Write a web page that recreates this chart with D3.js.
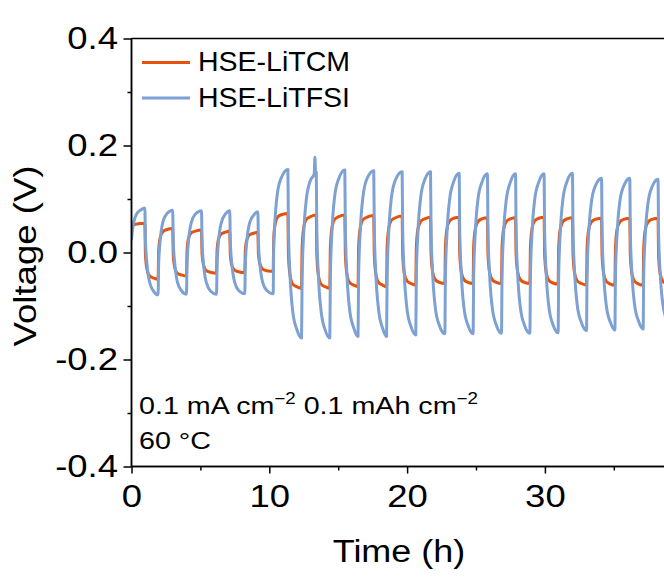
<!DOCTYPE html>
<html>
<head>
<meta charset="utf-8">
<script src="https://cdn.jsdelivr.net/npm/d3@7/dist/d3.min.js"></script>
<style>
  html, body { margin: 0; padding: 0; background: #fff; }
  svg { display: block; font-family: "Liberation Sans", Arial, sans-serif; }
</style>
</head>
<body>
<svg id="chart" width="664" height="577"></svg>
<script>
// current reversal times (h)
const turnTimes = [0, 0.97, 1.93, 2.99, 3.99, 5.08, 6.17, 7.13, 8.22, 9.17, 10.28,
  11.35, 12.34, 13.41, 14.39, 15.48, 16.44, 17.58, 18.51, 19.64, 20.63, 21.70, 22.74,
  23.78, 24.79, 25.83, 26.85, 27.87, 28.91, 29.94, 30.96, 32.00, 33.02, 34.11, 35.08,
  36.16, 37.13, 38.21, 39.25];

// hours after each reversal at which the voltages below were read
const sampleOffsets = [0.04, 0.15, 0.35, 0.65];

// voltage (V) at those offsets, then at the end of the half cycle
const tcmStart = 0.042;
const tcmHalves = [
  [0.048, 0.052, 0.053, 0.054, 0.054],
  [-0.003, -0.031, -0.044, -0.048, -0.050],
  [0.002, 0.028, 0.039, 0.043, 0.045],
  [-0.004, -0.028, -0.039, -0.042, -0.044],
  [0.003, 0.027, 0.037, 0.040, 0.042],
  [-0.003, -0.024, -0.034, -0.037, -0.039],
  [0.004, 0.026, 0.035, 0.038, 0.040],
  [-0.003, -0.024, -0.033, -0.036, -0.038],
  [0.004, 0.024, 0.033, 0.036, 0.038],
  [-0.002, -0.022, -0.031, -0.034, -0.035],
  [0.024, 0.054, 0.067, 0.071, 0.073],
  [-0.004, -0.042, -0.059, -0.064, -0.067],
  [0.008, 0.045, 0.062, 0.067, 0.070],
  [-0.005, -0.042, -0.059, -0.064, -0.067],
  [0.008, 0.045, 0.062, 0.067, 0.070],
  [-0.004, -0.040, -0.056, -0.061, -0.064],
  [0.009, 0.045, 0.061, 0.066, 0.069],
  [-0.004, -0.040, -0.056, -0.061, -0.064],
  [0.009, 0.044, 0.060, 0.065, 0.068],
  [-0.003, -0.038, -0.053, -0.058, -0.061],
  [0.009, 0.043, 0.058, 0.063, 0.066],
  [-0.002, -0.036, -0.051, -0.056, -0.058],
  [0.010, 0.044, 0.059, 0.064, 0.066],
  [-0.002, -0.036, -0.051, -0.056, -0.058],
  [0.010, 0.043, 0.058, 0.063, 0.065],
  [-0.003, -0.036, -0.051, -0.056, -0.058],
  [0.010, 0.043, 0.058, 0.063, 0.065],
  [-0.003, -0.036, -0.051, -0.056, -0.058],
  [0.010, 0.044, 0.059, 0.064, 0.066],
  [-0.003, -0.037, -0.052, -0.057, -0.059],
  [0.009, 0.043, 0.058, 0.063, 0.065],
  [-0.004, -0.038, -0.053, -0.058, -0.061],
  [0.008, 0.042, 0.057, 0.062, 0.064],
  [-0.005, -0.039, -0.054, -0.059, -0.061],
  [0.008, 0.042, 0.057, 0.062, 0.064],
  [-0.005, -0.039, -0.054, -0.059, -0.061],
  [0.008, 0.042, 0.057, 0.062, 0.064],
  [-0.005, -0.039, -0.054, -0.059, -0.061]
];

const tfsiStart = 0.023;
const tfsiHalves = [
  [0.035, 0.055, 0.071, 0.079, 0.083],
  [0.025, -0.021, -0.056, -0.073, -0.079],
  [-0.022, 0.022, 0.057, 0.073, 0.079],
  [0.022, -0.021, -0.056, -0.072, -0.078],
  [-0.022, 0.022, 0.056, 0.072, 0.078],
  [0.022, -0.022, -0.056, -0.072, -0.078],
  [-0.022, 0.022, 0.056, 0.072, 0.078],
  [0.022, -0.021, -0.055, -0.071, -0.077],
  [-0.022, 0.021, 0.055, 0.070, 0.076],
  [0.021, -0.022, -0.056, -0.071, -0.077],
  [0.007, 0.067, 0.118, 0.143, 0.155],
  [0.042, -0.040, -0.110, -0.144, -0.160],
  [-0.048, 0.032, 0.100, 0.135, 0.150],
  [0.038, -0.042, -0.110, -0.145, -0.160],
  [-0.047, 0.035, 0.104, 0.138, 0.154],
  [0.042, -0.039, -0.107, -0.141, -0.157],
  [-0.045, 0.035, 0.103, 0.138, 0.153],
  [0.041, -0.039, -0.107, -0.142, -0.157],
  [-0.046, 0.034, 0.102, 0.136, 0.151],
  [0.041, -0.038, -0.105, -0.139, -0.154],
  [-0.044, 0.035, 0.102, 0.136, 0.151],
  [0.042, -0.037, -0.104, -0.137, -0.152],
  [-0.044, 0.034, 0.100, 0.133, 0.148],
  [0.040, -0.038, -0.104, -0.137, -0.152],
  [-0.044, 0.033, 0.099, 0.132, 0.147],
  [0.040, -0.038, -0.103, -0.136, -0.151],
  [-0.044, 0.034, 0.099, 0.132, 0.147],
  [0.040, -0.038, -0.103, -0.136, -0.151],
  [-0.044, 0.034, 0.099, 0.132, 0.147],
  [0.040, -0.037, -0.102, -0.135, -0.150],
  [-0.043, 0.035, 0.100, 0.133, 0.148],
  [0.042, -0.034, -0.099, -0.131, -0.146],
  [-0.043, 0.031, 0.093, 0.125, 0.139],
  [0.037, -0.037, -0.100, -0.131, -0.145],
  [-0.043, 0.031, 0.094, 0.125, 0.139],
  [0.037, -0.036, -0.098, -0.129, -0.143],
  [-0.042, 0.031, 0.092, 0.123, 0.137],
  [0.037, -0.036, -0.097, -0.128, -0.142]
];
// short voltage spike near 13.3 h
const tfsiSpike = [[13.26, 0.147], [13.31, 0.178], [13.36, 0.149]];

const seriesNames = ["HSE-LiTCM", "HSE-LiTFSI"];
const seriesColors = ["#E4520E", "#7EA1D3"];

const xMajor = [0, 10, 20, 30];
const xMinor = [5, 15, 25, 35];
const yMajor = [-0.4, -0.2, 0.0, 0.2, 0.4];
const yMinor = [-0.3, -0.1, 0.1, 0.3];

function buildSeries(start, halves, extra) {
  const pts = [[turnTimes[0], start]];
  halves.forEach((vals, i) => {
    const t0 = turnTimes[i], t1 = turnTimes[i + 1];
    sampleOffsets.forEach((o, j) => pts.push([t0 + o, vals[j]]));
    pts.push([t1, vals[4]]);
  });
  return pts.concat(extra || []).sort((a, b) => a[0] - b[0]);
}

const series = [
  buildSeries(tcmStart, tcmHalves),
  buildSeries(tfsiStart, tfsiHalves, tfsiSpike)
];

const svg = d3.select("#chart");
const plotLeft = 131.5, plotTop = 38.5, plotBottom = 466.5;
const x = d3.scaleLinear().domain([0, 40]).range([plotLeft, plotLeft + 13.78 * 40]);
const y = d3.scaleLinear().domain([-0.4, 0.4]).range([plotBottom, plotTop]);

const fmt = d => d.toFixed(1);
const stretch = 1.14; // the reference text is drawn a little wide

// clip
svg.append("defs").append("clipPath").attr("id", "plot-clip")
  .append("rect").attr("x", plotLeft).attr("y", plotTop).attr("width", 700).attr("height", plotBottom - plotTop);

// lines
const line = d3.line().x(d => x(d[0])).y(d => y(d[1])).curve(d3.curveMonotoneX);
svg.append("g").attr("clip-path", "url(#plot-clip)")
  .selectAll("path").data(series).enter().append("path")
  .attr("d", line)
  .attr("fill", "none")
  .attr("stroke", (d, i) => seriesColors[i])
  .attr("stroke-width", 3)
  .attr("stroke-linejoin", "round");

// top frame line
svg.append("line").attr("x1", plotLeft).attr("x2", 664).attr("y1", plotTop).attr("y2", plotTop)
  .attr("stroke", "#000").attr("stroke-width", 1.5);

// axes
const xAxis = svg.append("g").attr("transform", `translate(0,${plotBottom})`)
  .call(d3.axisBottom(x).tickValues(xMajor).tickFormat(d => d).tickSize(7).tickPadding(11));
xAxis.append("g").call(d3.axisBottom(x).tickValues(xMinor).tickFormat("").tickSize(4));
const yAxis = svg.append("g").attr("transform", `translate(${plotLeft},0)`)
  .call(d3.axisLeft(y).tickValues(yMajor).tickFormat(fmt).tickSize(8).tickPadding(5));
yAxis.append("g").call(d3.axisLeft(y).tickValues(yMinor).tickFormat("").tickSize(4));

svg.selectAll(".domain").attr("stroke", "#000").attr("stroke-width", 1.5);
svg.selectAll(".tick line").attr("stroke", "#000").attr("stroke-width", 1.5);
svg.selectAll(".tick text").attr("fill", "#000")
  .style("font-family", '"Liberation Sans", Arial, sans-serif').style("font-size", "32px")
  .attr("transform", `scale(${stretch},1)`);
yAxis.selectAll(".tick text").attr("x", -13.5 / stretch);
xAxis.selectAll(".domain").attr("d", `M${plotLeft},0H664`);
yAxis.selectAll(".domain").attr("d", `M0,${plotTop}V${plotBottom}`);

// axis titles
svg.append("text").attr("transform", `translate(399,562) scale(1.16,1)`).attr("text-anchor", "middle")
  .style("font-size", "31px").text("Time (h)");
svg.append("text").attr("transform", "translate(36,256) rotate(-90) scale(1.18,1)").attr("text-anchor", "middle")
  .style("font-size", "31px").text("Voltage (V)");

// legend
const legend = svg.append("g").selectAll("g").data(seriesNames).enter().append("g")
  .attr("transform", (d, i) => `translate(142,${62.5 + i * 35.5})`);
legend.append("line").attr("x1", 0).attr("x2", 48).attr("y1", 0).attr("y2", 0)
  .attr("stroke", (d, i) => seriesColors[i]).attr("stroke-width", 3);
legend.append("text").attr("x", 56).attr("y", 8.5).style("font-size", "28.5px").text(d => d);

// annotation
const note = svg.append("text").attr("transform", "translate(139,414) scale(1.17,1)").style("font-size", "24.5px");
note.append("tspan").text("0.1 mA cm");
note.append("tspan").attr("dy", -10).style("font-size", "16px").text("\u22122");
note.append("tspan").attr("dy", 10).text(" 0.1 mAh cm");
note.append("tspan").attr("dy", -10).style("font-size", "16px").text("\u22122");
svg.append("text").attr("transform", "translate(139,449) scale(1.17,1)").style("font-size", "24.5px").text("60 \u00B0C");
</script>
</body>
</html>
